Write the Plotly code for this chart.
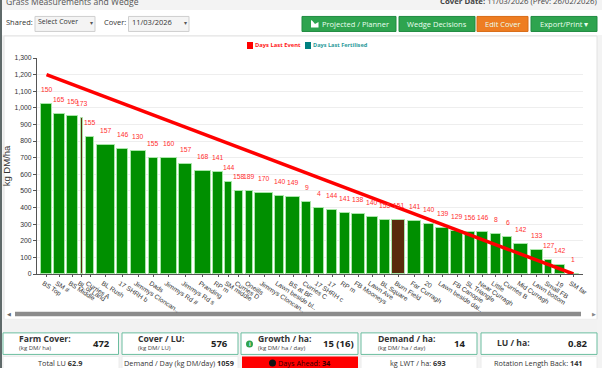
import plotly.graph_objects as go
import numpy as np

paddocks = ["BS Top","SM #","BS Middle","BL of Land","Curries A","BL Rush","17 SHRH b","Jimmys Cloncan..","Dads","Jimmys Rd #",
            "Jimmys Rd s","Pranding","RP m","SM middle","Curries D","Oneills","Jimmys Cloncan..","Lawn beside bl..","BS at BF","Curries C",
            "17 SHRH c","17","RP m","FB Mooneys","Lawn Ave","BL Square","Burn Field","Far Curragh","20","Lawn beside dai..",
            "FB Canopie","SL Triangle","Near Curragh","Little","Curries B","Mid Curragh","Lawn bottom","Small FB","19","SM far"]
covers = [1025,960,950,940,825,775,755,740,700,700,660,620,611,556,498,498,488,468,462,434,
          398,384,367,363,343,323,323,319,299,279,259,253,253,243,223,183,143,87,52,0]
areas = [1.06,1.03,1.10,0.24,0.87,1.80,1.07,1.54,0.97,1.60,1.30,1.60,0.93,0.67,0.87,0.70,1.73,0.87,1.34,0.87,
         1.06,1.07,0.97,1.24,1.04,0.94,1.34,1.34,0.97,1.27,1.13,0.93,1.10,1.00,0.87,1.40,1.17,0.70,1.07,1.08]
days_last_event = [150,165,150,173,155,157,146,130,155,160,157,168,141,144,158,189,170,140,149,9,
                   4,144,141,138,140,155,151,141,140,139,129,156,146,8,6,142,133,127,142,1]
brown_bars = ["BL of Land","Burn Field"]
target_cover = [1200,0]
y_ticks = list(range(0,1400,100))

GAP=0.254; PAD=0.42
a=np.array(areas,float)
lefts=PAD+np.concatenate([[0],np.cumsum(a+GAP)[:-1]])
centers=lefts+a/2
xmax=float(lefts[-1]+a[-1]+PAD)
colors=["#5a2a0c" if p in brown_bars else "#008f00" for p in paddocks]

L,R,T,B=37,583,58,273.7
def px(x): return (x-L)/(R-L)
def py(y): return (B-y)/(B-T)

shapes=[];ann=[]
def rect(x0,y0,x1,y1,fill,line=None,lw=1):
    shapes.append(dict(type="rect",xref="paper",yref="paper",x0=px(x0),x1=px(x1),y0=py(y0),y1=py(y1),
        fillcolor=fill,line=dict(color=line or fill,width=lw if line else 0),layer="below"))
def txt(x,y,s,size=8,color="#333",anchor="left",font="Open Sans",ang=0):
    ann.append(dict(xref="paper",yref="paper",x=px(x),y=py(y),text=s,showarrow=False,xanchor=anchor,yanchor="middle",
        font=dict(size=size,color=color,family=font),borderpad=0,borderwidth=0,textangle=ang))

# page furniture
rect(0,0,2,368,"#5f6a6a")
rect(2,10,602,35,"#ffffff")
rect(4,36,597,319,"#ffffff","#e2e2e2")
txt(6,2,"Grass Measurements and Wedge",8.6,"#555")
txt(597,1.5,"<b>Cover Date:</b> 11/03/2026 (Prev: 26/02/2026)",7.8,"#444","right")
txt(6,22,"Shared:",7.5)
rect(35,16.5,95,31.5,"#f4f4f4","#cfcfcf")
txt(38,22,"Select Cover",7)
txt(93,23,"▾",6,"#555","right")
txt(104,22,"Cover:",7.5)
rect(128.5,16.5,189,31.5,"#f4f4f4","#cfcfcf")
txt(132,22,"11/03/2026",7.5)
txt(187,23,"▾",6,"#555","right")
for x0,x1,c,s in [(302,396,"#2ea44f","Projected / Planner"),(399,475,"#2ea44f","Wedge Decisions"),
                  (477,528,"#ee7d22","Edit Cover"),(531,597,"#2ea44f","Export/Print ▾")]:
    rect(x0,16.5,x1,31.5,c,"#1f8a40" if c=="#2ea44f" else "#d86c16")
    cx=(x0+x1)/2+(6 if s.startswith("Proj") else 0)
    txt(cx,24,s,7.5,"#eafff0","center")
shapes.append(dict(type="path",xref="paper",yref="paper",layer="below",fillcolor="#ffffff",line=dict(width=0),
    path="M %f %f L %f %f L %f %f L %f %f L %f %f L %f %f Z"%(px(311),py(20),px(311),py(27.5),px(318.5),py(27.5),px(318.5),py(22),px(315),py(24),px(312.5),py(21))))
# legend
rect(247,42,253,49,"#ff0000")
txt(255,45.5,"<b>Days Last Event</b>",5.8,"#ff2020")
rect(305,42,311,49,"#008080")
txt(313,45.5,"<b>Days Last Fertilised</b>",5.6,"#2a9a9a")
# scrollbar
rect(15,311.5,581,316,"#8c8c8c")
txt(9,314,"◀",5,"#666","center")
txt(594,314,"▶",5,"#888","center")
rect(4,319,597,331,"#f2f2f2")
# KPI boxes
kpis=[(3,118.5,"Farm Cover:","(kg DM/ ha)","472",9),(122,238,"Cover / LU:","(kg DM/ LU)","576",10),
      (241,358,"Growth / ha:","(kg DM/ ha / day)","15 (16)",4),(361,477,"Demand / ha:","(kg DM/ ha / day)","14",12),
      (481,597,"LU / ha:","","0.82",9)]
for x0,x1,t,sub,v,off in kpis:
    rect(x0,332.5,x1,354,"#ffffff","#6bbd9f",1)
    tx=x0+(17 if t[0] in "GD" else 16)
    txt(tx,339 if sub else 343,"<b>%s</b>"%t,8.6,"#333")
    if sub: txt(tx,348,sub,6,"#444")
    txt(x1-off,343.5,"<b>%s</b>"%v,9.5,"#222","right")
shapes.append(dict(type="circle",xref="paper",yref="paper",x0=px(246),x1=px(253),y0=py(340),y1=py(347),
                   fillcolor="#2ea44f",line=dict(width=0),layer="below"))
txt(249.5,343.5,"<b>i</b>",5.5,"#fff","center")
# bottom row
rows=[(3,119,60,"Total LU <b>62.9</b>","#ffffff","#333"),(122,238,179,"Demand / Day (kg DM/day) <b>1059</b>","#ffffff","#333"),
      (242,358,304,"Days Ahead: <b>34</b>","#ff0000","#330000"),(361,477,418,"kg LWT / ha: <b>693</b>","#ffffff","#333"),
      (481,597,538,"Rotation Length Back: <b>141</b>","#ffffff","#333")]
for x0,x1,cx,s,f,c in rows:
    rect(x0,356,x1,369,f,"#ececec" if f=="#ffffff" else None)
    txt(cx,362.5,s,7.3,c,"center")
shapes.append(dict(type="circle",xref="paper",yref="paper",x0=px(269),x1=px(276),y0=py(359),y1=py(366),
                   fillcolor="#111",line=dict(width=0),layer="below"))

# event labels above each bar
for c,v,d in zip(centers,covers,days_last_event):
    ann.append(dict(x=float(c),y=v,xref="x",yref="y",text=str(d),showarrow=False,yshift=14.5,
                    font=dict(size=6.8,color="#ff3030",family="Liberation Sans"),borderpad=0))

fig=go.Figure()
fig.add_bar(x=centers,y=covers,width=a,marker=dict(color=colors,line=dict(color="#a8e6a8",width=1)),showlegend=False)
fig.add_scatter(x=[centers[0],centers[-1]],y=target_cover,mode="lines",line=dict(color="#ff0000",width=3.5),showlegend=False)
fig.update_layout(width=602,height=368,margin=dict(l=L,r=602-R,t=T,b=368-B,autoexpand=False),
    paper_bgcolor="#f3f3f3",plot_bgcolor="rgba(0,0,0,0)",shapes=shapes,annotations=ann,bargap=0,showlegend=False,
    font=dict(family="Liberation Sans",size=8,color="#333"))
fig.update_xaxes(range=[0,xmax],tickmode="array",tickvals=centers,ticktext=paddocks,tickangle=33,ticks="outside",ticklen=2,
    tickcolor="#555",showline=True,linecolor="#555",linewidth=1,showgrid=False,zeroline=False,
    tickfont=dict(size=6.6,color="#333",family="Liberation Sans"),ticklabelshift=-3)
fig.update_yaxes(range=[0,1300],tickmode="array",tickvals=y_ticks,tickformat=",",ticks="outside",ticklen=3,tickcolor="#555",
    showline=True,linecolor="#555",linewidth=1,gridcolor="#eeeeee",gridwidth=1,zeroline=False,
    tickfont=dict(size=6.8,color="#333",family="Liberation Sans"),
    title=dict(text="kg DM/ha",font=dict(size=9.5,color="#333",family="Liberation Sans"),standoff=2))
fig.write_html("out.html",config={"displayModeBar":False},
    post_script="document.body.style.margin='0';document.body.style.overflow='hidden';")
